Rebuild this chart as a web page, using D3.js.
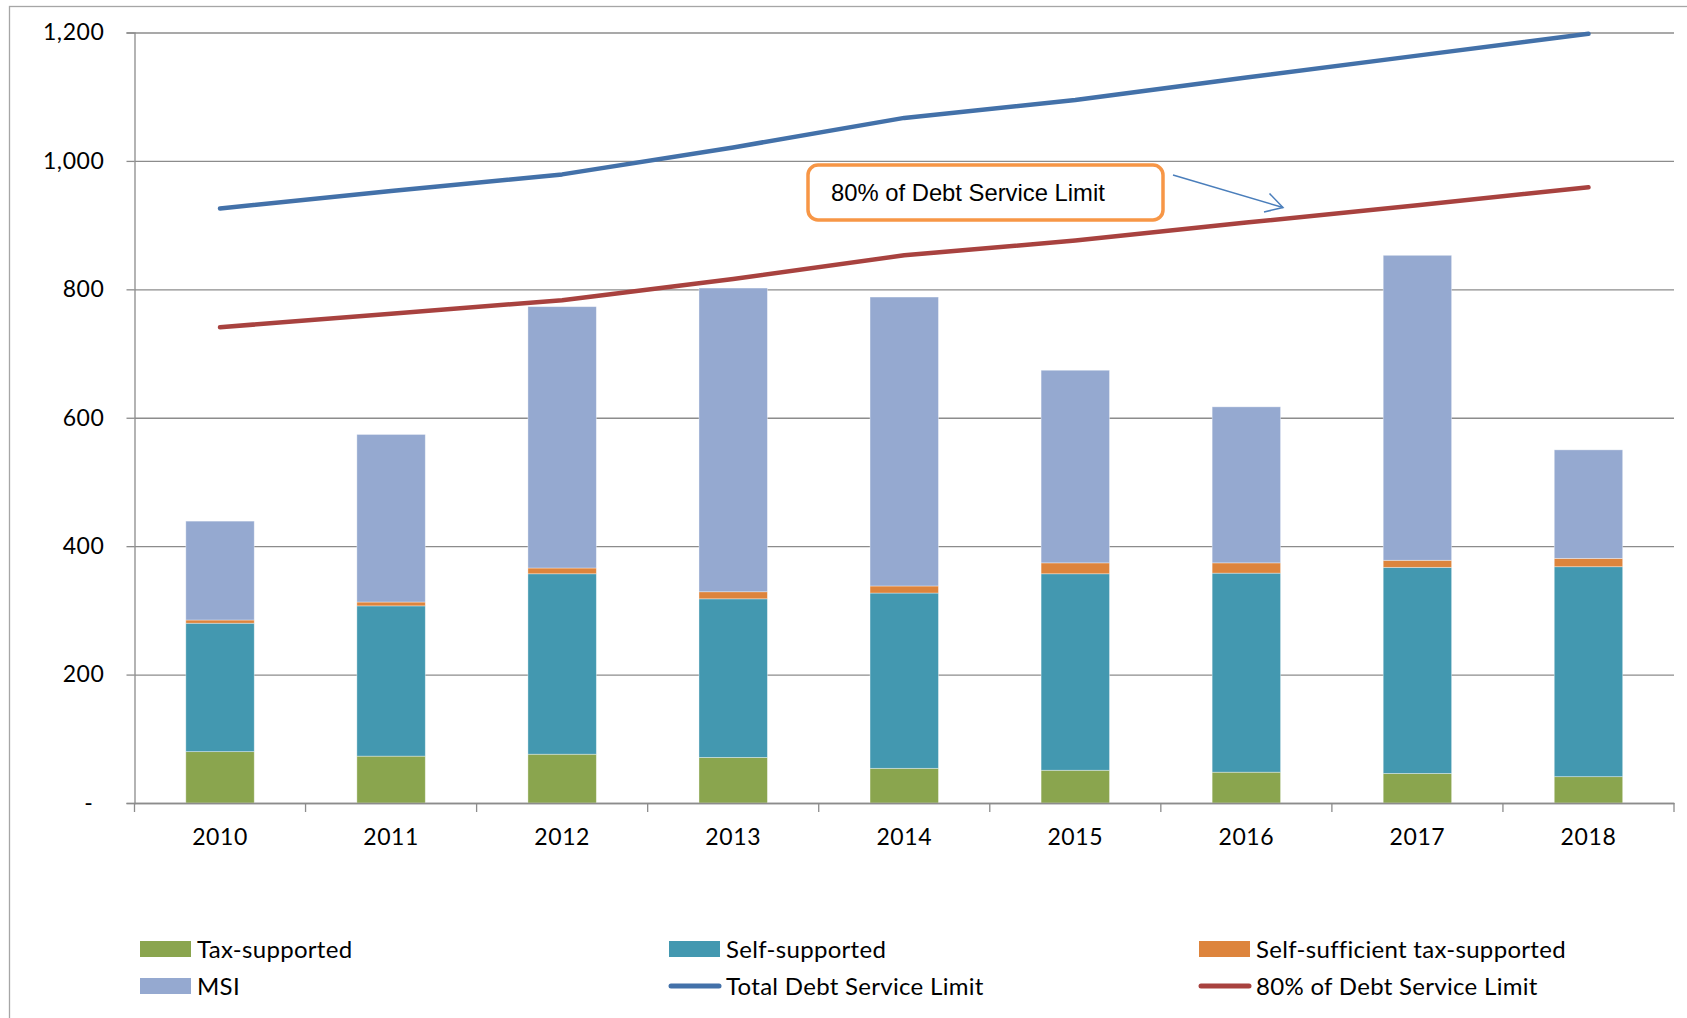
<!DOCTYPE html>
<html>
<head>
<meta charset="utf-8">
<script src="https://cdn.jsdelivr.net/npm/d3@7"></script>
<style>
  html, body { margin: 0; padding: 0; background: #fff; }
  svg { display: block; }
  .tick text { font-family: Lato, "Open Sans", sans-serif; fill: #000; }
</style>
</head>
<body>
<svg id="chart" width="1687" height="1018"></svg>
<script>
// Debt service by year (stacked bars) with the limit lines
const categories = ["2010", "2011", "2012", "2013", "2014", "2015", "2016", "2017", "2018"];
const taxSupported = [80, 73, 76, 71, 54, 51, 48, 46, 41];
const selfSupported = [200, 234, 281, 247, 273, 306, 310, 321, 327];
const selfSufficientTaxSupported = [5, 6, 9, 11, 11, 17, 16, 11, 13];
const msi = [154, 261, 407, 473, 450, 300, 243, 475, 169];
const totalDebtServiceLimit = [926, 953, 979, 1021, 1067, 1095, 1130, 1164, 1198];
const eightyPctDebtServiceLimit = [741, 762, 783, 816, 853, 876, 904, 931, 959];
const yTickValues = [0, 200, 400, 600, 800, 1000, 1200];
const yTickLabels = ["-", "200", "400", "600", "800", "1,000", "1,200"];
const barSeriesNames = ["Tax-supported", "Self-supported", "Self-sufficient tax-supported", "MSI"];
const lineSeriesNames = ["Total Debt Service Limit", "80% of Debt Service Limit"];
const calloutText = "80% of Debt Service Limit";

const barColors = ["#8aa54e", "#4398b0", "#dd843c", "#95a9d0"];
const lineColors = ["#4371a9", "#a8423f"];
const gridColor = "#8c8c8c";

const svg = d3.select("#chart");

// outer chart frame
svg.append("rect")
  .attr("x", 9.5).attr("y", 6.5)
  .attr("width", 1720).attr("height", 1100)
  .attr("fill", "none").attr("stroke", "#a6a6a6").attr("stroke-width", 1.3);

const plot = { left: 134.5, right: 1674, top: 32.5, bottom: 803 };

const x = d3.scaleBand()
  .domain(categories)
  .range([plot.left, plot.right])
  .paddingInner(0.6)
  .paddingOuter(0.3);

const y = d3.scaleLinear()
  .domain([0, 1200])
  .range([plot.bottom, plot.top]);

// horizontal gridlines
svg.append("g")
  .attr("transform", `translate(${plot.left},0)`)
  .call(d3.axisLeft(y).tickValues(yTickValues).tickSize(-(plot.right - plot.left)).tickFormat(""))
  .call(g => g.select(".domain").remove())
  .call(g => g.selectAll("line").attr("stroke", gridColor).attr("stroke-width", 1.3));

// y axis with tick marks and labels
const yAxis = svg.append("g")
  .attr("transform", `translate(${plot.left},0)`)
  .call(d3.axisLeft(y).tickValues(yTickValues).tickSize(8).tickPadding(22)
    .tickFormat((d, i) => yTickLabels[i]));
yAxis.select(".domain").attr("stroke", gridColor).attr("stroke-width", 1.3);
yAxis.selectAll("line").attr("stroke", gridColor).attr("stroke-width", 1.3);
yAxis.selectAll("text").style("font-size", "23px").style("letter-spacing", "0.6px");
yAxis.selectAll("text").filter(d => d === 0).attr("dx", "-11");

// stacked bars
const rows = categories.map((c, i) => ({
  year: c,
  s0: taxSupported[i],
  s1: selfSupported[i],
  s2: selfSufficientTaxSupported[i],
  s3: msi[i]
}));
const stack = d3.stack().keys(["s0", "s1", "s2", "s3"]);
const layers = stack(rows);

svg.append("g").selectAll("g")
  .data(layers)
  .join("g")
  .attr("fill", (d, i) => barColors[i])
  .selectAll("rect")
  .data(d => d)
  .join("rect")
  .attr("x", d => x(d.data.year))
  .attr("width", x.bandwidth())
  .attr("y", d => y(d[1]))
  .attr("height", d => y(d[0]) - y(d[1]))
  .attr("stroke", "#ffffff")
  .attr("stroke-opacity", 0.45)
  .attr("stroke-width", 0.8);

// x axis: baseline, boundary ticks and year labels
const xAxis = svg.append("g")
  .attr("transform", `translate(0,${plot.bottom})`)
  .call(d3.axisBottom(x).tickSize(0).tickPadding(26));
xAxis.select(".domain").attr("stroke", gridColor).attr("stroke-width", 1.3);
xAxis.selectAll("text").style("font-size", "23px").style("letter-spacing", "0.6px");

const boundaries = categories.map(c => x(c) + x.bandwidth() / 2 - x.step() / 2)
  .concat([x(categories[categories.length - 1]) + x.bandwidth() / 2 + x.step() / 2]);
svg.append("g").selectAll("line")
  .data(boundaries)
  .join("line")
  .attr("x1", d => d).attr("x2", d => d)
  .attr("y1", plot.bottom).attr("y2", plot.bottom + 9)
  .attr("stroke", gridColor).attr("stroke-width", 1.3);

// limit lines
const lineGen = d3.line()
  .x((d, i) => x(categories[i]) + x.bandwidth() / 2)
  .y(d => y(d));
[totalDebtServiceLimit, eightyPctDebtServiceLimit].forEach((series, k) => {
  svg.append("path")
    .datum(series)
    .attr("d", lineGen)
    .attr("fill", "none")
    .attr("stroke", lineColors[k])
    .attr("stroke-width", 4.5)
    .attr("stroke-linecap", "round")
    .attr("stroke-linejoin", "round");
});

// callout box with arrow pointing at the 80% line
svg.append("rect")
  .attr("x", 808).attr("y", 165)
  .attr("width", 355).attr("height", 55)
  .attr("rx", 10).attr("ry", 10)
  .attr("fill", "#fff")
  .attr("stroke", "#f79646").attr("stroke-width", 3.5);
svg.append("text")
  .attr("x", 831).attr("y", 201)
  .attr("font-family", "'Liberation Sans', Arial, sans-serif")
  .attr("font-size", 23.8)
  .attr("fill", "#000")
  .text(calloutText);

const arrowColor = "#4a7ebb";
svg.append("line")
  .attr("x1", 1173).attr("y1", 175).attr("x2", 1283).attr("y2", 207.5)
  .attr("stroke", arrowColor).attr("stroke-width", 1.5);
svg.append("path")
  .attr("d", "M1269.5,193.5 L1283,207.5 L1264,212")
  .attr("fill", "none").attr("stroke", arrowColor).attr("stroke-width", 1.5)
  .attr("stroke-linejoin", "miter");

// legend
const legendFont = "Lato, 'Open Sans', sans-serif";
const legendCols = [140, 669, 1199];
const legendRows = [949, 986];
const legendItems = [
  { name: barSeriesNames[0], type: "box", color: barColors[0], col: 0, row: 0 },
  { name: barSeriesNames[1], type: "box", color: barColors[1], col: 1, row: 0 },
  { name: barSeriesNames[2], type: "box", color: barColors[2], col: 2, row: 0 },
  { name: barSeriesNames[3], type: "box", color: barColors[3], col: 0, row: 1 },
  { name: lineSeriesNames[0], type: "line", color: lineColors[0], col: 1, row: 1 },
  { name: lineSeriesNames[1], type: "line", color: lineColors[1], col: 2, row: 1 }
];
const legend = svg.append("g");
legendItems.forEach(item => {
  const lx = legendCols[item.col];
  const ly = legendRows[item.row];
  if (item.type === "box") {
    legend.append("rect")
      .attr("x", lx).attr("y", ly - 8)
      .attr("width", 51).attr("height", 16)
      .attr("fill", item.color);
  } else {
    legend.append("line")
      .attr("x1", lx + 2).attr("x2", lx + 50)
      .attr("y1", ly).attr("y2", ly)
      .attr("stroke", item.color).attr("stroke-width", 5)
      .attr("stroke-linecap", "round");
  }
  legend.append("text")
    .attr("x", lx + 57).attr("y", ly)
    .attr("dy", "0.36em")
    .attr("font-family", legendFont)
    .attr("font-size", 24)
    .attr("letter-spacing", "0.3px")
    .attr("fill", "#000")
    .text(item.name);
});
</script>
</body>
</html>
